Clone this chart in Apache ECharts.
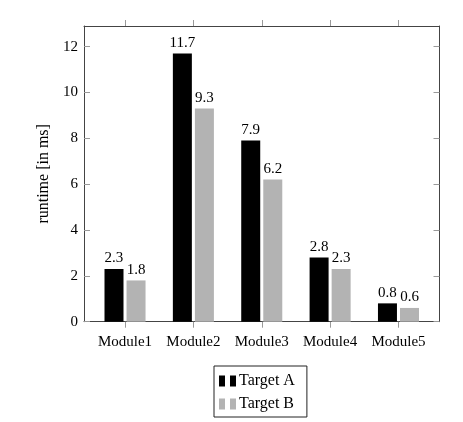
<!DOCTYPE html>
<html>
<head>
<meta charset="utf-8">
<script src="https://cdn.jsdelivr.net/npm/echarts@6/dist/echarts.min.js"></script>
<style>
  html, body { margin: 0; padding: 0; background: #fff; }
  #chart { width: 463px; height: 422px; }
</style>
</head>
<body>
<div id="chart"></div>
<script>
// values
const modules = ['Module1', 'Module2', 'Module3', 'Module4', 'Module5']
const targetA = [2.3, 11.7, 7.9, 2.8, 0.8]
const targetB = [1.8, 9.3, 6.2, 2.3, 0.6]
const yTicks = [0, 2, 4, 6, 8, 10, 12]

const font = 'Liberation Serif'
const frameColor = '#444'
const tickColor = '#999'

// x is a value axis so the outer margins can match the figure
const toPoints = vals => vals.map((v, i) => [i, v])
const positions = modules.map((m, i) => i)

let chart = echarts.init(document.getElementById('chart'))

let labelStyle = {
  show: true,
  position: 'top',
  distance: 3,
  color: '#000',
  fontFamily: font,
  fontSize: 15
}

let option = {
  animation: false,
  grid: { left: 84, right: 23.5, top: 26, bottom: 100.3 },
  legend: {
    orient: 'vertical',
    left: 214,
    top: 366,
    width: 93,
    borderColor: '#222',
    borderWidth: 1,
    padding: [7, 12, 5, 5],
    itemGap: 7,
    itemWidth: 17,
    itemHeight: 11,
    icon: 'path://M0,0h6v11h-6z M11,0h6v11h-6z',
    textStyle: { fontFamily: font, fontSize: 16, color: '#000', padding: [0, 0, 0, -2] },
    data: ['Target A', 'Target B']
  },
  xAxis: [
    {
      type: 'value',
      min: -0.6,
      max: 4.6,
      position: 'bottom',
      splitLine: { show: false },
      axisLine: { onZero: false, lineStyle: { color: frameColor } },
      axisTick: { inside: false, length: 6, customValues: positions, lineStyle: { color: tickColor } },
      axisLabel: {
        customValues: positions,
        margin: 13,
        color: '#000',
        fontFamily: font,
        fontSize: 15,
        formatter: v => modules[Math.round(v)]
      }
    },
    {
      type: 'value',
      min: -0.6,
      max: 4.6,
      position: 'top',
      splitLine: { show: false },
      axisLine: { onZero: false, lineStyle: { color: frameColor } },
      axisTick: { inside: false, length: 6, customValues: positions, lineStyle: { color: tickColor } },
      axisLabel: { show: false }
    }
  ],
  yAxis: [
    {
      type: 'value',
      min: 0,
      max: 12.9,
      interval: 2,
      position: 'left',
      name: 'runtime [in ms]',
      nameLocation: 'middle',
      nameRotate: 90,
      nameGap: 27,
      nameTextStyle: { fontFamily: font, fontSize: 16, color: '#000' },
      splitLine: { show: false },
      axisLine: { show: true, onZero: false, lineStyle: { color: frameColor } },
      axisTick: { inside: true, length: 6, customValues: yTicks, lineStyle: { color: tickColor } },
      axisLabel: { customValues: yTicks, margin: 6, color: '#000', fontFamily: font, fontSize: 15 }
    },
    {
      type: 'value',
      min: 0,
      max: 12.9,
      interval: 2,
      position: 'right',
      splitLine: { show: false },
      axisLine: { show: true, onZero: false, lineStyle: { color: frameColor } },
      axisTick: { inside: true, length: 6, customValues: yTicks, lineStyle: { color: tickColor } },
      axisLabel: { show: false }
    }
  ],
  series: [
    {
      name: 'Target A',
      type: 'bar',
      data: toPoints(targetA),
      barWidth: 19,
      barGap: '16%',
      itemStyle: { color: '#000' },
      label: labelStyle
    },
    {
      name: 'Target B',
      type: 'bar',
      data: toPoints(targetB),
      barWidth: 19,
      barGap: '16%',
      itemStyle: { color: '#b3b3b3' },
      label: labelStyle
    }
  ]
}

chart.setOption(option)
</script>
</body>
</html>
